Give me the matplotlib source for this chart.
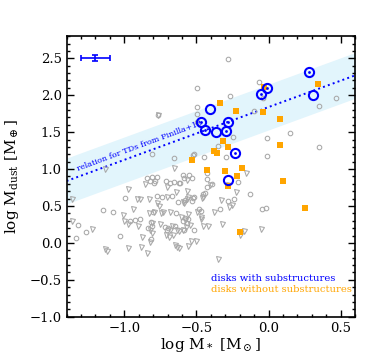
import numpy as np
import matplotlib
matplotlib.use("Agg")
from matplotlib import pyplot as plt

plt.rcParams['font.family'] = ['DejaVu Serif']
plt.rcParams['mathtext.fontset'] = 'dejavuserif'

# grey comparison sample: detections (circles) and upper limits (triangles)
grey_circ_x = [-0.498, -0.498, -0.498, -0.498, -0.764, -0.806, -0.655, -0.517, -0.447, -0.350,
               -0.279, -0.068, -0.269, -0.038, -0.100, 0.352, 0.470, 0.149, -0.008, -0.248,
               -0.008, 0.352, -0.297, -0.521,
               -0.591, -0.549, -0.528, -0.584, -0.614, -0.424, -0.424, -0.394, -0.424, -0.214,
               -0.128, -0.279, -0.239, -0.336, -0.047, -0.017, -0.452, -0.440, -0.482, -0.470,
               -0.516, -0.579, -0.532, -0.514, -0.579, -0.591,
               -0.840, -0.810, -0.775, -0.822, -0.787, -0.794, -0.711, -0.683, -0.653, -0.620,
               -0.995, -0.775, -0.741, -0.671, -0.625, -0.526, -1.145, -1.076, -0.799, -0.641,
               -0.556, -0.567, -0.960, -0.926, -0.891, -0.817, -0.810, -0.833, -0.718, -0.694,
               -0.706, -0.648, -0.584, -1.030, -0.817,
               -1.323, -1.337, -1.265]
grey_circ_y = [2.094, 1.845, 1.746, 1.642, 1.732, 1.200, 1.150, 1.204, 1.159, 1.312,
               2.491, 2.175, 1.990, 1.967, 1.782, 1.858, 1.967, 1.492, 1.421, 1.438,
               1.172, 1.303, 1.159, 1.190,
               0.919, 0.919, 0.875, 0.875, 0.815, 0.869, 0.950, 0.793, 0.761, 0.828,
               0.658, 0.571, 0.590, 0.454, 0.454, 0.468, 0.658, 0.671, 0.454, 0.435,
               0.174, 0.580, 0.571, 0.617, 0.333, 0.296,
               0.883, 0.896, 0.896, 0.842, 0.842, 0.807, 0.842, 0.807, 0.820, 0.807,
               0.604, 0.635, 0.617, 0.635, 0.557, 0.604, 0.445, 0.414, 0.414, 0.400,
               0.323, 0.265, 0.294, 0.316, 0.319, 0.287, 0.232, 0.197, 0.219, 0.197,
               0.174, 0.228, 0.174, 0.092, 0.048,
               0.242, 0.062, 0.143]

grey_tri_x = [-0.764, -0.653, -1.134, -0.158, -0.567, -0.405, -0.283, -0.227, -0.276, -0.251,
              -0.329, -0.376, -0.320, -0.456, -0.498, -0.470, -0.456, -0.419, -0.539, -0.505,
              -0.556, -0.348, -0.198, -0.172, -0.050, -0.591, -0.567, -0.544, -0.572, -0.591,
              -0.856, -0.702, -0.563, -0.641, -0.976, -0.914, -0.891, -0.826, -0.771, -0.759,
              -0.706, -0.584, -0.556, -0.463, -0.937, -1.007, -0.792, -0.826, -0.734, -0.745,
              -0.683, -0.607, -0.579, -0.556, -0.470, -0.999, -0.972, -0.903, -0.810, -0.822,
              -0.810, -0.752, -0.671, -0.683, -0.636, -0.620, -0.875, -0.822, -0.713, -0.690,
              -0.660, -0.648, -0.632, -0.620, -0.884, -0.976, -1.134, -1.122, -0.840,
              -1.365, -1.365, -1.226]
grey_tri_y = [1.732, 1.018, 0.996, 0.941, 0.852, 0.784, 0.784, 0.685, 0.490, 0.513,
              0.581, 0.414, 0.256, 0.625, 0.422, 0.319, 0.228, 0.228, 0.029, 0.029,
              -0.043, -0.215, 0.106, 0.160, 0.183, 0.557, 0.590, 0.242, 0.220, 0.174,
              0.793, 0.753, 0.707, 0.685, 0.730, 0.590, 0.590, 0.590, 0.536, 0.503,
              0.617, 0.544, 0.625, 0.604, 0.459, 0.377, 0.422, 0.400, 0.422, 0.400,
              0.414, 0.346, 0.310, 0.390, 0.346, 0.294, 0.256, 0.232, 0.273, 0.174,
              0.137, 0.256, 0.232, 0.174, 0.174, 0.160, 0.074, 0.016, 0.106, 0.075,
              0.106, -0.029, -0.060, -0.074, -0.060, -0.066, -0.088, -0.111, -0.142,
              0.590, 0.300, 0.183]

# disks with substructures: rings (dotted centre) and plain open circles
sub_ring_x = [0.281, -0.008, -0.050, -0.466, -0.440, -0.297, -0.281, -0.234]
sub_ring_y = [2.311, 2.102, 2.021, 1.633, 1.525, 1.511, 1.633, 1.213]
sub_open_x = [0.310, -0.405, -0.364, -0.281]
sub_open_y = [2.007, 1.814, 1.502, 0.852]

# disks without substructures
nosub_x = [0.341, -0.336, -0.227, -0.038, -0.029, 0.082, 0.080, -0.318, -0.279, -0.378,
           -0.359, -0.528, -0.428, -0.300, -0.186, -0.216, 0.101, -0.279, 0.251, -0.197]
nosub_y = [2.148, 1.899, 1.787, 1.773, 2.108, 1.674, 1.322, 1.384, 1.303, 1.245,
           1.213, 1.122, 0.987, 0.973, 1.018, 0.906, 0.838, 0.766, 0.476, 0.151]

# Pinilla+18 relation for transition disks
rel_slope = 0.715
rel_icpt = 1.84
rel_width = 0.31

fig = plt.figure(figsize=(3.74, 3.62), dpi=100)
ax = fig.add_axes([0.178, 0.125, 0.7714, 0.775])

xx = np.array([-1.4, 0.6])
yy = rel_icpt + rel_slope * xx
ax.fill_between(xx, yy - rel_width, yy + rel_width, color='#e2f5fc', lw=0, zorder=0)
ax.plot(xx, yy, ':', color='blue', lw=1.4, zorder=1)
ax.text(-0.89, 1.31, 'relation for TDs from Pinilla+18', color='blue', fontsize=5.9,
        rotation=20.3, ha='center', va='center')

ax.plot(grey_circ_x, grey_circ_y, 'o', mfc='none', mec='#a8a8a8', ms=3.3, mew=0.75, zorder=2)
ax.plot(grey_tri_x, grey_tri_y, 'v', mfc='none', mec='#a8a8a8', ms=3.6, mew=0.75, zorder=2)

ax.plot(nosub_x, nosub_y, 's', color='orange', ms=4.2, mew=0, zorder=3)

ax.plot(sub_open_x, sub_open_y, 'o', mfc='none', mec='blue', ms=6.6, mew=1.5, zorder=4)
ax.plot(sub_ring_x, sub_ring_y, 'o', mfc='none', mec='blue', ms=6.6, mew=1.5, zorder=4)
ax.plot(sub_ring_x, sub_ring_y, 'o', color='blue', ms=2.0, mew=0, zorder=4)

ax.errorbar([-1.2], [2.5], xerr=0.1, yerr=0.04, fmt='none', ecolor='blue', elinewidth=1.2,
            capsize=2, capthick=1.2)

ax.text(-0.4, -0.476, 'disks with substructures', color='blue', fontsize=7.2, va='center')
ax.text(-0.4, -0.625, 'disks without substructures', color='orange', fontsize=7.2, va='center')

ax.set_xlim(-1.4, 0.6)
ax.set_ylim(-1.0, 2.8)
ax.set_xticks([-1.0, -0.5, 0.0, 0.5])
ax.set_yticks(np.arange(-1.0, 2.6, 0.5))
ax.xaxis.set_minor_locator(matplotlib.ticker.MultipleLocator(0.1))
ax.yaxis.set_minor_locator(matplotlib.ticker.MultipleLocator(0.1))
ax.tick_params(which='both', direction='in', top=True, right=True, labelsize=9.5, width=1)
ax.tick_params(which='major', length=5)
ax.tick_params(which='minor', length=2.5)
for s in ax.spines.values():
    s.set_linewidth(1.2)

ax.set_xlabel(r'log M$_*$ [M$_\odot$]', fontsize=11, labelpad=1)
ax.set_ylabel(r'log M$_{\rm dust}$ [M$_\oplus$]', fontsize=11, labelpad=6)

fig.savefig('out.png', dpi=100)
